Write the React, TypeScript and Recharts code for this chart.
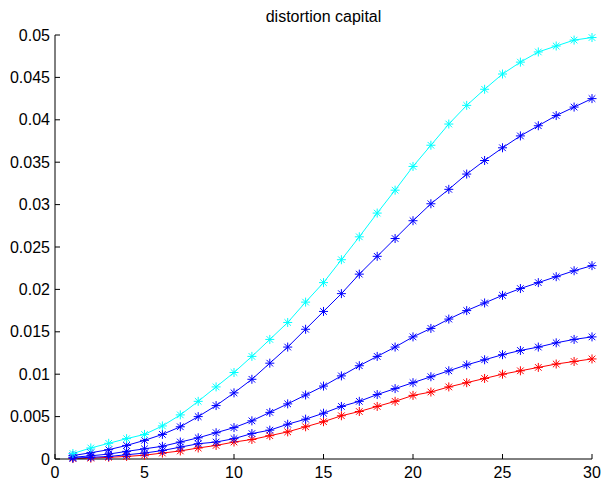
import { LineChart, Line, XAxis, YAxis } from 'recharts'

const STEPS = [1, 2, 3, 4, 5, 6, 7, 8, 9, 10, 11, 12, 13, 14, 15, 16, 17, 18, 19, 20, 21, 22, 23, 24, 25, 26, 27, 28, 29, 30]

const cyanSeries = [0.00065, 0.0013, 0.00185, 0.0024, 0.0029, 0.0039, 0.0052, 0.0068, 0.0085, 0.0102, 0.0121, 0.0141, 0.0161, 0.0185, 0.0208, 0.0235, 0.0262, 0.029, 0.0317, 0.0345, 0.037, 0.0395, 0.0417, 0.0436, 0.0454, 0.0468, 0.048, 0.0487, 0.0494, 0.0497]
const blueHigh = [0.0004, 0.00074, 0.0011, 0.0016, 0.0022, 0.0029, 0.0038, 0.005, 0.0063, 0.0078, 0.0094, 0.0113, 0.0132, 0.0153, 0.0174, 0.0195, 0.0218, 0.0239, 0.026, 0.0281, 0.0301, 0.0318, 0.0336, 0.0352, 0.0367, 0.0381, 0.0393, 0.0405, 0.0415, 0.0425]
const blueMid = [0.0002, 0.00038, 0.00058, 0.0009, 0.0012, 0.0015, 0.002, 0.0025, 0.0031, 0.0037, 0.0045, 0.0055, 0.0065, 0.00755, 0.0086, 0.0098, 0.011, 0.0121, 0.0132, 0.0144, 0.0154, 0.0165, 0.0175, 0.0184, 0.0193, 0.0201, 0.0208, 0.0215, 0.0222, 0.0228]
const blueLow = [0.0001, 0.0002, 0.0003, 0.0005, 0.0007, 0.001, 0.0014, 0.0018, 0.002, 0.0024, 0.003, 0.0034, 0.0041, 0.0047, 0.0054, 0.0062, 0.0068, 0.0076, 0.0083, 0.009, 0.0097, 0.0104, 0.0111, 0.0117, 0.0123, 0.0128, 0.0132, 0.0137, 0.0141, 0.0144]
const redSeries = [0.00005, 0.0001, 0.0002, 0.0003, 0.00045, 0.0007, 0.00095, 0.0013, 0.0016, 0.002, 0.0023, 0.00275, 0.0032, 0.0038, 0.0044, 0.0051, 0.0056, 0.0062, 0.0068, 0.0075, 0.0079, 0.0085, 0.009, 0.0095, 0.01, 0.0104, 0.0108, 0.0112, 0.0115, 0.0118]

const X_TICKS = [0, 5, 10, 15, 20, 25, 30]
const Y_TICKS = [0, 0.005, 0.01, 0.015, 0.02, 0.025, 0.03, 0.035, 0.04, 0.045, 0.05]

const data = STEPS.map((x, i) => ({
  x,
  c: cyanSeries[i],
  b1: blueHigh[i],
  b2: blueMid[i],
  b3: blueLow[i],
  r: redSeries[i],
}))

const SERIES = [
  { key: 'r', color: '#ff0000' },
  { key: 'b3', color: '#0000ff' },
  { key: 'b2', color: '#0000ff' },
  { key: 'b1', color: '#0000ff' },
  { key: 'c', color: '#00ffff' },
]

// matlab style '*' marker
function Star(props: any) {
  const { cx, cy, stroke, index } = props
  if (cx == null || cy == null) return <g key={index} />
  const a = 4.5
  const d = 3.3
  return (
    <g key={index} stroke={stroke} strokeWidth={1}>
      <line x1={cx - a} y1={cy} x2={cx + a} y2={cy} />
      <line x1={cx} y1={cy - a} x2={cx} y2={cy + a} />
      <line x1={cx - d} y1={cy - d} x2={cx + d} y2={cy + d} />
      <line x1={cx - d} y1={cy + d} x2={cx + d} y2={cy - d} />
    </g>
  )
}

const tickStyle = { fill: '#000', fontSize: 16 }

export default function App() {
  return (
    <div style={{ position: 'absolute', left: 0, top: 0, width: 603, height: 480, background: '#fff', fontFamily: '"Liberation Sans", Arial, sans-serif' }}>
      <div style={{ position: 'absolute', left: 55, width: 537, top: 8, textAlign: 'center', fontSize: 16, lineHeight: '18px', color: '#000' }}>
        distortion capital
      </div>
      <LineChart width={603} height={480} data={data} margin={{ top: 35, right: 11, bottom: 0, left: 0 }}>
        <XAxis
          dataKey="x"
          type="number"
          domain={[0, 30]}
          ticks={X_TICKS}
          height={21}
          stroke="#000"
          tickSize={-5}
          tickMargin={13}
          tick={tickStyle}
        />
        <YAxis
          type="number"
          domain={[0, 0.05]}
          ticks={Y_TICKS}
          width={55}
          stroke="#000"
          tickSize={-5}
          tickMargin={10}
          tick={tickStyle}
          tickFormatter={(v: number) => String(v)}
        />
        {SERIES.map((s) => (
          <Line
            key={s.key}
            dataKey={s.key}
            type="linear"
            stroke={s.color}
            strokeWidth={1}
            dot={<Star />}
            activeDot={false}
            isAnimationActive={false}
          />
        ))}
      </LineChart>
    </div>
  )
}
